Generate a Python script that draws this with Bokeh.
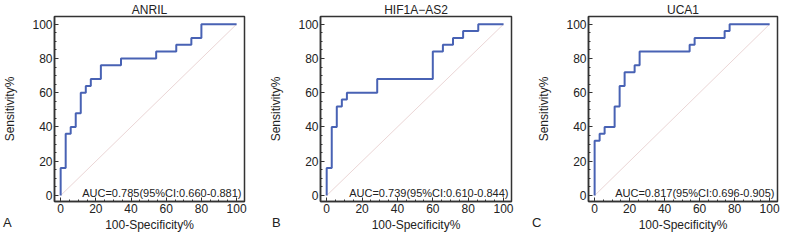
from bokeh.plotting import figure
from bokeh.layouts import row, column
from bokeh.models import Range1d, Label, FixedTicker, Div
from bokeh.embed import file_html
from bokeh.resources import INLINE

titles = ["ANRIL", "HIF1A\u2212AS2", "UCA1"]
panel_letters = ["A", "B", "C"]
auc_texts = ["AUC=0.785(95%CI:0.660-0.881)",
             "AUC=0.739(95%CI:0.610-0.844)",
             "AUC=0.817(95%CI:0.696-0.905)"]

anril_fpr = [0, 0, 2.86, 5.71, 8.57, 11.43, 14.29, 17.14, 22.86, 34.29, 54.29, 65.71, 74.29, 80, 100]
anril_tpr = [0, 16, 36, 40, 48, 60, 64, 68, 76, 80, 84, 88, 92, 100, 100]

hif_fpr = [0, 0, 2.86, 5.71, 8.57, 11.43, 28.57, 60, 65.71, 71.43, 77.14, 85.71, 100]
hif_tpr = [0, 16, 40, 52, 56, 60, 68, 84, 88, 92, 96, 100, 100]

uca_fpr = [0, 0, 2.86, 5.71, 11.43, 14.29, 17.14, 22.86, 25.71, 54.29, 57.14, 74.29, 77.14, 100]
uca_tpr = [0, 32, 36, 40, 52, 64, 72, 76, 84, 88, 92, 96, 100, 100]

major_ticks = [0, 20, 40, 60, 80, 100]
minor_ticks = list(range(0, 101, 5))
diag = [0, 100]

series = [(anril_fpr, anril_tpr), (hif_fpr, hif_tpr), (uca_fpr, uca_tpr)]

FONT = "Liberation Sans"
TXT = "#222222"
# (width, min_border_left, min_border_right)
layout = [(254, 51, 10), (268, 66, 11), (262, 66, 7)]
letter_x = [3, 272, 532]

figs = []
for i, (fpr, tpr) in enumerate(series):
    w, bl, br = layout[i]
    p = figure(width=w, height=234, output_backend="svg", toolbar_location=None,
               x_range=Range1d(-3.5, 104.5), y_range=Range1d(-3.5, 104.5),
               min_border_left=bl, min_border_right=br, min_border_top=8,
               min_border_bottom=0, title=titles[i])
    p.title.align = "center"
    p.title.text_font = FONT
    p.title.text_font_size = "12px"
    p.title.text_font_style = "normal"
    p.title.text_color = TXT
    p.title.standoff = 0
    p.title.offset = 0
    p.grid.visible = False
    p.outline_line_color = "#333333"
    p.outline_line_width = 1.5
    p.background_fill_color = "white"
    p.border_fill_color = "white"
    for ax in (p.xaxis[0], p.yaxis[0]):
        ax.ticker = FixedTicker(ticks=major_ticks, minor_ticks=minor_ticks)
        ax.major_tick_in = 4
        ax.major_tick_out = 0
        ax.minor_tick_in = 2
        ax.minor_tick_out = 0
        ax.axis_line_color = "#333333"
        ax.axis_line_width = 1.5
        ax.major_tick_line_color = "#333333"
        ax.minor_tick_line_color = "#333333"
        ax.major_label_text_font = FONT
        ax.major_label_text_font_size = "12px"
        ax.major_label_text_color = TXT
        ax.major_label_standoff = 2
        ax.axis_label_text_font = FONT
        ax.axis_label_text_font_size = "12px"
        ax.axis_label_text_font_style = "normal"
        ax.axis_label_text_color = TXT
    p.xaxis.axis_label = "100-Specificity%"
    p.xaxis.axis_label_standoff = 2
    p.yaxis.axis_label = "Sensitivity%"
    p.yaxis.axis_label_standoff = 12

    p.line(diag, diag, line_color="#ebd6d6", line_width=1)
    p.step(fpr, tpr, mode="after", line_color="#4862b4", line_width=2)

    p.add_layout(Label(x=104.5, y=-3.5, x_offset=-3, y_offset=9, text=auc_texts[i],
                       text_align="right", text_baseline="alphabetic",
                       text_font=FONT, text_font_size="11px", text_color=TXT))
    figs.append(p)

spans = "".join(
    f'<span style="position:absolute;left:{x}px;top:0px">{t}</span>'
    for x, t in zip(letter_x, panel_letters))
letters = Div(text=f'<div style="position:relative;height:14px;width:784px;'
                   f'font-family:{FONT};font-size:13px;color:{TXT}">{spans}</div>',
              width=784, height=14, margin=(-20, 0, 0, 0))

page = column(row(*figs, spacing=0), letters, spacing=0)
open("out.html", "w").write(file_html(page, INLINE))
